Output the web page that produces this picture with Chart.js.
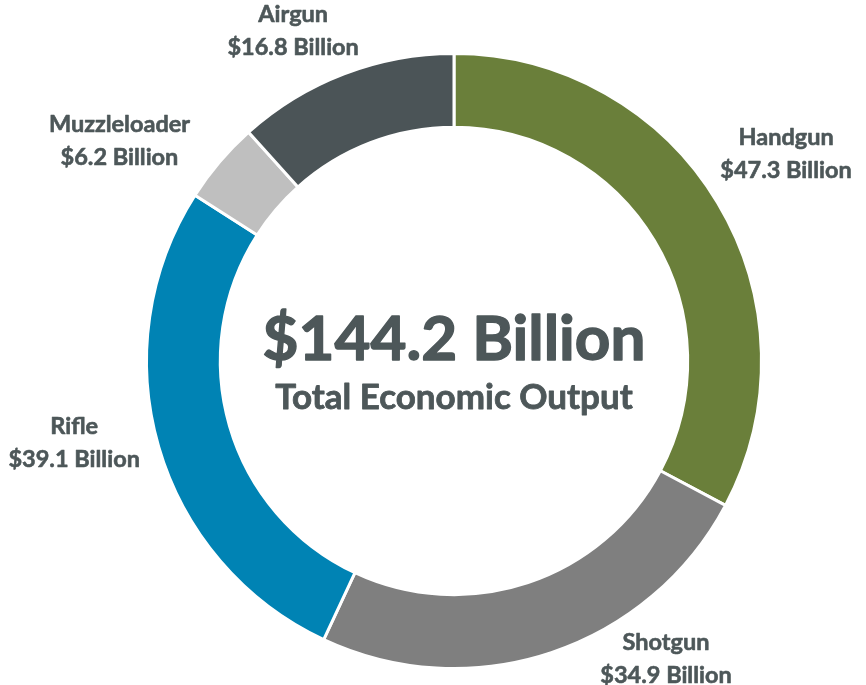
<!DOCTYPE html>
<html>
<head>
<meta charset="utf-8">
<script src="https://cdn.jsdelivr.net/npm/chart.js@4.4.1/dist/chart.umd.min.js"></script>
<style>
    html, body { margin: 0; padding: 0; background: #ffffff; }
    #wrap { width: 866px; height: 685px; position: relative; }
</style>
</head>
<body>
<div id="wrap"><canvas id="output-chart"></canvas></div>
<script>
// Chart data
const categories = ['Handgun', 'Shotgun', 'Rifle', 'Muzzleloader', 'Airgun'];
const outputBillions = [47.3, 34.9, 39.1, 6.2, 16.8];
const valueLabels = ['$47.3 Billion', '$34.9 Billion', '$39.1 Billion', '$6.2 Billion', '$16.8 Billion'];
const totalLabel = '$144.2 Billion';
const totalCaption = 'Total Economic Output';

const sliceColors = ['#6a7f3a', '#7f7f7f', '#0083b4', '#bfbfbf', '#4b5457'];
const textColor = '#4d5759';

// Small tweaks so outside labels sit where the original put them
const labelAngleShift = [-1, -17, 4, -7, -5];   // degrees
const labelGap = [84, 58, 81, 93, 60];          // px beyond the ring

const fontFamily = 'Lato, "Open Sans", sans-serif';

// Bold text with a thin outline in the same colour, to get closer to the heavier original
function drawHeavyText(ctx, text, x, y, weightPx) {
    ctx.fillText(text, x, y);
    ctx.lineWidth = weightPx;
    ctx.strokeText(text, x, y);
}

// Plugin that writes the slice labels and the total in the middle
const labelsPlugin = {
    id: 'ringLabels',
    afterDraw(chart) {
        const ctx = chart.ctx;
        const meta = chart.getDatasetMeta(0);
        ctx.save();
        ctx.fillStyle = textColor;
        ctx.strokeStyle = textColor;
        ctx.lineJoin = 'round';
        ctx.textAlign = 'center';
        ctx.textBaseline = 'middle';

        meta.data.forEach((arc, i) => {
            const props = arc.getProps(['x', 'y', 'startAngle', 'endAngle', 'outerRadius'], true);
            const mid = (props.startAngle + props.endAngle) / 2 + labelAngleShift[i] * Math.PI / 180;
            const r = props.outerRadius + labelGap[i];
            const lx = props.x + Math.cos(mid) * r;
            const ly = props.y + Math.sin(mid) * r;
            ctx.font = 'bold 23.5px ' + fontFamily;
            drawHeavyText(ctx, categories[i], lx, ly - 16.5, 0.6);
            drawHeavyText(ctx, valueLabels[i], lx, ly + 16.5, 0.6);
        });

        const cx = meta.data[0].x;
        const cy = meta.data[0].y;
        ctx.font = 'bold 62px ' + fontFamily;
        drawHeavyText(ctx, totalLabel, cx, cy - 21, 1.4);
        ctx.font = 'bold 35px ' + fontFamily;
        drawHeavyText(ctx, totalCaption, cx, cy + 37, 0.8);
        ctx.restore();
    }
};

function initOutputChart() {
    const canvas = document.getElementById('output-chart');

    const config = {
        type: 'doughnut',
        data: {
            labels: categories,
            datasets: [
                {
                    data: outputBillions,
                    backgroundColor: sliceColors,
                    borderColor: '#ffffff',
                    borderWidth: 3
                }
            ]
        },
        options: {
            responsive: true,
            maintainAspectRatio: false,
            animation: false,
            cutout: '76%',
            layout: {
                padding: { left: 145, right: 103, top: 52, bottom: 15 }
            },
            plugins: {
                legend: { display: false },
                tooltip: { enabled: false }
            }
        },
        plugins: [labelsPlugin]
    };

    new Chart(canvas, config);
}

document.fonts.load('bold 20px Lato').then(initOutputChart, initOutputChart);
</script>
</body>
</html>
